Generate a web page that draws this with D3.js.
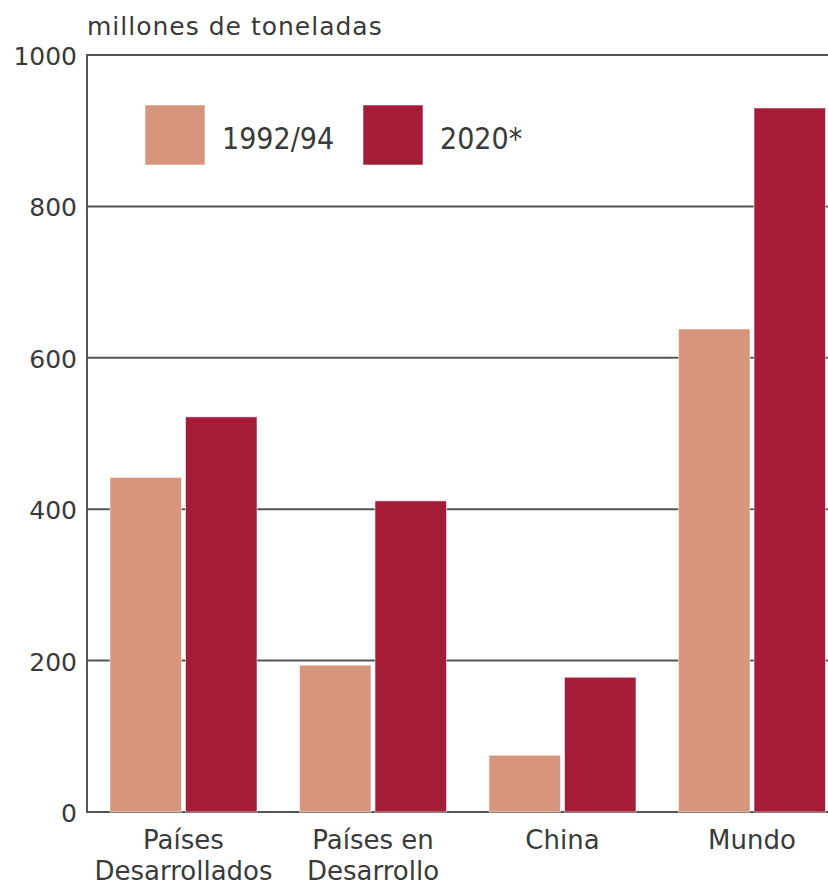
<!DOCTYPE html>
<html>
<head>
<meta charset="utf-8">
<script src="https://cdn.jsdelivr.net/npm/d3@7"></script>
<style>
  html, body { margin: 0; padding: 0; background: #fff; }
  svg { display: block; }
  text { font-family: "DejaVu Sans", sans-serif; fill: #3a3a3a; }
  .cond { font-family: "DejaVu Sans Condensed", "DejaVu Sans", sans-serif; }
</style>
</head>
<body>
<script>
// Producción de cereales (millones de toneladas)
const categories = [["Países", "Desarrollados"], ["Países en", "Desarrollo"], ["China"], ["Mundo"]];
const seriesNames = ["1992/94", "2020*"];
const values1992 = [442, 194, 75, 638];
const values2020 = [522, 411, 178, 930];
const yTicks = [0, 200, 400, 600, 800, 1000];
const colors = ["#D8957D", "#A51C38"];

const W = 828, H = 886;
const plotLeft = 87, plotRight = 828, plotTop = 55, plotBottom = 812;

const svg = d3.select("body").append("svg")
  .attr("width", W).attr("height", H);

const keys = categories.map(c => c.join(" "));
const rows = keys.map((k, i) => ({ key: k, lines: categories[i], vals: [values1992[i], values2020[i]] }));

const y = d3.scaleLinear().domain([0, 1000]).range([plotBottom, plotTop]);

const x0 = d3.scaleBand().domain(keys)
  .range([110, 825.5]).paddingInner(0.2243).paddingOuter(0);
const x1 = d3.scaleBand().domain(seriesNames)
  .range([0, x0.bandwidth()]).paddingInner(0.053);

// gridlines and left axis
const yAxis = d3.axisLeft(y).tickValues(yTicks).tickFormat(d3.format("d"))
  .tickSize(0).tickPadding(10);
const gAxis = svg.append("g").attr("transform", `translate(${plotLeft},0)`).call(yAxis);
gAxis.select(".domain").remove();
gAxis.attr("font-family", null).attr("font-size", null);
gAxis.selectAll("text")
  .style("font-size", "25px").attr("dy", "0.38em");

svg.append("g").selectAll("line").data(yTicks).join("line")
  .attr("x1", plotLeft).attr("x2", plotRight)
  .attr("y1", d => y(d)).attr("y2", d => y(d))
  .attr("stroke", "#555").attr("stroke-width", 2);

svg.append("line")
  .attr("x1", plotLeft).attr("x2", plotLeft)
  .attr("y1", y(1000) - 1).attr("y2", y(0) + 1)
  .attr("stroke", "#555").attr("stroke-width", 2);

// bars
const groups = svg.append("g").selectAll("g").data(rows).join("g")
  .attr("transform", d => `translate(${x0(d.key)},0)`);

groups.selectAll("rect").data(d => d.vals.map((v, i) => ({ name: seriesNames[i], v, i })))
  .join("rect")
  .attr("x", d => x1(d.name))
  .attr("y", d => y(d.v))
  .attr("width", x1.bandwidth())
  .attr("height", d => y(0) - y(d.v))
  .attr("fill", d => colors[d.i])
  .attr("stroke", "rgba(255,255,255,0.55)")
  .attr("stroke-width", 1);

// category labels, one text per line
const labelRows = rows.flatMap(r => r.lines.map((line, i) => ({ key: r.key, line, i })));
svg.append("g").selectAll("text").data(labelRows).join("text")
  .attr("x", d => x0(d.key) + x0.bandwidth() / 2)
  .attr("y", d => 849 + d.i * 31)
  .attr("text-anchor", "middle")
  .style("font-size", "26px")
  .text(d => d.line);

// unit title
svg.append("text")
  .attr("x", plotLeft).attr("y", 35)
  .style("font-size", "25px")
  .style("letter-spacing", "1px")
  .text("millones de toneladas");

// legend
const legendX = [145, 363];
const legend = svg.append("g").selectAll("g").data(seriesNames).join("g")
  .attr("transform", (d, i) => `translate(${legendX[i]},105)`);
legend.append("rect")
  .attr("width", 60).attr("height", 60)
  .attr("fill", (d, i) => colors[i])
  .attr("stroke", "rgba(255,255,255,0.55)").attr("stroke-width", 1);
legend.append("text")
  .attr("class", "cond")
  .attr("x", 77).attr("y", 44)
  .style("font-size", "30px")
  .text(d => d);
</script>
</body>
</html>
